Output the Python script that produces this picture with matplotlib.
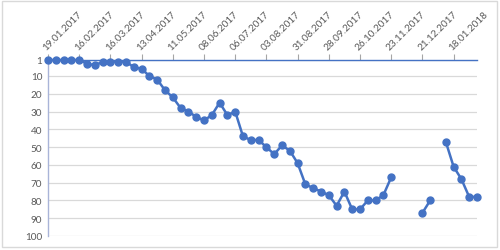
import numpy as np
import pandas as pd
import matplotlib
matplotlib.use("Agg")
import matplotlib.pyplot as plt
import matplotlib.dates as mdates
from matplotlib.patches import Rectangle

plt.rcParams['font.family'] = ['Lato', 'DejaVu Sans']

# Weekly ranking values (NaN = no value that week)
dates = pd.date_range("2017-01-19", periods=56, freq="7D")
rank = [1, 1, 1, 1, 1, 3, 4, 2, 2, 2, 2, 5, 6, 10, 12, 18, 22, 28, 30, 33,
        35, 32, 25, 32, 30, 44, 46, 46, 50, 54, 49, 52, 59, 71, 73, 75, 77, 83,
        75, 85, 85, 80, 80, 77, 67, np.nan, np.nan, np.nan, 87, 80, np.nan, 47,
        61, 68, 78, 78]
y_ticks = [1, 10, 20, 30, 40, 50, 60, 70, 80, 90, 100]
x_ticks = pd.date_range("2017-01-19", "2018-01-18", freq="28D")

blue = "#4472C4"
grey = "#595959"

fig = plt.figure(figsize=(5.0, 2.51), dpi=100)
ax = fig.add_axes([48 / 500, 1 - 237 / 251, 429 / 500, 176 / 251])

ax.plot(dates, rank, color=blue, lw=1.8, marker="o", ms=5, zorder=3, clip_on=False)

ax.set_ylim(100, 1)
ax.set_yticks(y_ticks)
ax.set_xlim(dates[0], dates[-1])
ax.set_xticks(x_ticks)
ax.xaxis.set_major_formatter(mdates.DateFormatter("%d.%m.%Y"))
ax.xaxis.tick_top()
ax.tick_params(axis="x", direction="out", length=4, color="#A6A6A6", labelsize=7.2,
               labelcolor=grey, pad=2)
for lab in ax.get_xticklabels():
    lab.set_rotation(45)
    lab.set_ha("left")
    lab.set_va("bottom")
    lab.set_rotation_mode("anchor")
ax.tick_params(axis="y", length=0, labelsize=7.2, labelcolor=grey, pad=4)

ax.grid(axis="y", color="#D9D9D9", lw=0.9)
ax.set_axisbelow(True)
for s in ["right", "bottom"]:
    ax.spines[s].set_visible(False)
ax.spines["top"].set_color(blue)
ax.spines["top"].set_linewidth(1.0)
ax.spines["left"].set_color("#A9B4D8")
ax.spines["left"].set_linewidth(1.0)

fig.patches.append(Rectangle((2 / 500, 3 / 251), 495 / 500, 246 / 251, transform=fig.transFigure,
                             fill=False, edgecolor="#D9D9D9", lw=1))

fig.savefig("out.png", dpi=100)
